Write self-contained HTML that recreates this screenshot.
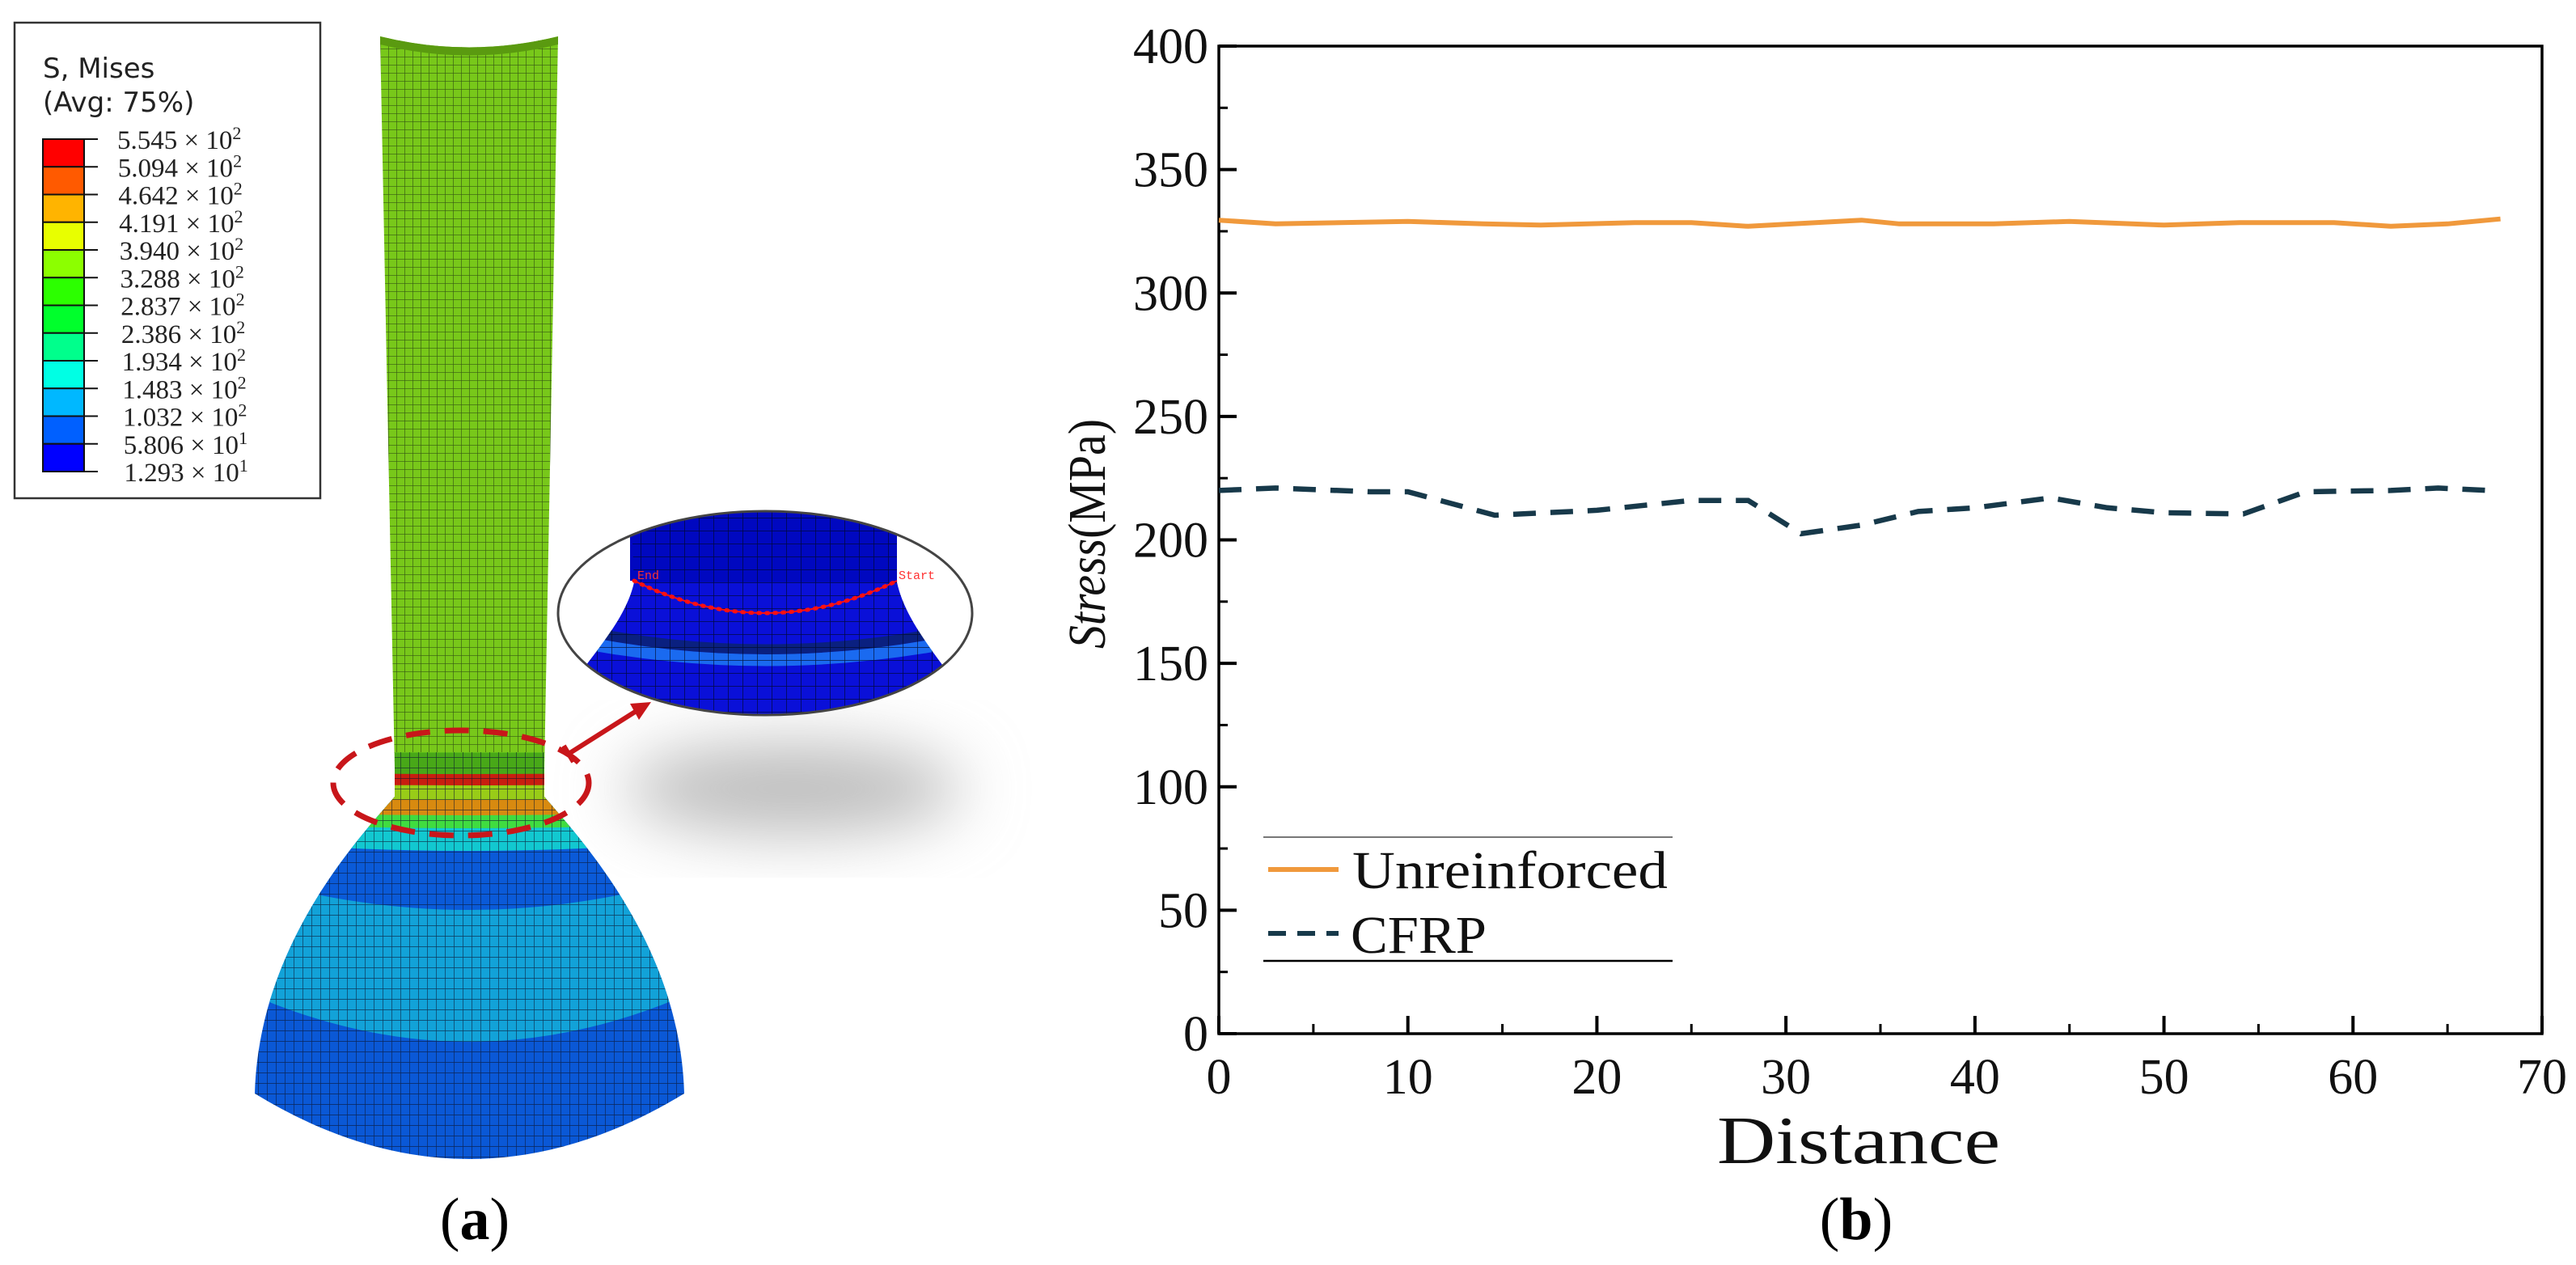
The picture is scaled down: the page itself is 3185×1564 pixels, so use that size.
<!DOCTYPE html>
<html><head><meta charset="utf-8"><style>
html,body{margin:0;padding:0;background:#fff;}
svg{display:block;}
</style></head><body>
<svg id="fig" width="3185" height="1564" viewBox="0 0 3185 1564" xmlns="http://www.w3.org/2000/svg">
<defs>
  <pattern id="mesh" width="10" height="10" patternUnits="userSpaceOnUse">
    <path d="M0,0 H10 M0,0 V10" stroke="#1a2a10" stroke-width="1.3" stroke-opacity="0.7" fill="none"/>
  </pattern>
  <pattern id="mesh2" width="11" height="13" patternUnits="userSpaceOnUse">
    <path d="M0,0 H11 M0,0 V13" stroke="#0a1530" stroke-width="1.4" stroke-opacity="0.75" fill="none"/>
  </pattern>
  <pattern id="mesh3" width="18" height="16" patternUnits="userSpaceOnUse">
    <path d="M0,0 H18 M0,0 V16" stroke="#000820" stroke-width="1.5" stroke-opacity="0.8" fill="none"/>
  </pattern>
  <clipPath id="flareClip">
    <path d="M488,930 L488,985 C440,1040 320,1170 315,1352 Q580,1514 846,1352 C841,1170 720,1040 673,985 L673,930 Z"/>
  </clipPath>
  <clipPath id="insetClip">
    <ellipse cx="946" cy="758" rx="255" ry="125"/>
  </clipPath>
  <filter id="blur" x="-50%" y="-50%" width="200%" height="200%"><feGaussianBlur stdDeviation="40"/></filter>
</defs>

<!-- Panel (a) legend -->
<g>
  <rect x="18" y="28" width="378" height="588" fill="#fff" stroke="#333" stroke-width="2.5"/>
  <text x="53" y="96" font-family="'DejaVu Sans','Liberation Sans',sans-serif" font-size="34" fill="#222">S, Mises</text>
  <text x="53" y="138" font-family="'DejaVu Sans','Liberation Sans',sans-serif" font-size="34" fill="#222">(Avg: 75%)</text>
  <g id="cbar"></g>
</g>

<!-- shadow -->
<ellipse cx="980" cy="975" rx="210" ry="55" fill="#bbb" filter="url(#blur)"/>

<!-- Tube -->
<g>
  <path d="M470,45 Q580,72 690,45 L673,950 L488,950 Z" fill="#78c81a"/>
  <path d="M470,45 Q580,72 690,45 L673,950 L488,950 Z" fill="url(#mesh)"/>
  <path d="M470,45 Q580,72 690,45 L690,55 Q580,82 470,55 Z" fill="#5a9a10"/>
  <g clip-path="url(#flareClip)" id="flareBands"></g>
  <path d="M488,930 L488,985 C440,1040 320,1170 315,1352 Q580,1514 846,1352 C841,1170 720,1040 673,985 L673,930 Z" fill="url(#mesh2)"/>
  <ellipse cx="570" cy="968" rx="158" ry="65" fill="none" stroke="#c8161a" stroke-width="7" stroke-dasharray="30 18"/>
  <g>
    <line x1="703" y1="932" x2="790" y2="877" stroke="#c8161a" stroke-width="6"/>
    <polygon points="805,868 779,870 790,890" fill="#c8161a"/>
    <line x1="697" y1="922" x2="709" y2="942" stroke="#c8161a" stroke-width="6"/>
  </g>
</g>

<!-- Inset -->
<g>
  <ellipse cx="946" cy="758" rx="256" ry="126" fill="#fff"/>
  <g clip-path="url(#insetClip)">
    <path d="M779,600 L1109,600 L1109,720 C1118,760 1145,795 1175,835 L1175,900 L715,900 L715,835 C745,795 775,760 784,720 Z" fill="#0a10d8"/>
    <rect x="779" y="600" width="330" height="120" fill="#0008c0"/>
    <path d="M745,778 Q946,815 1150,778 L1155,790 Q946,828 740,790 Z" fill="#0a2080"/>
    <path d="M740,790 Q946,828 1155,790 L1160,805 Q946,842 735,805 Z" fill="#1a6af0"/>
    <path d="M779,600 L1109,600 L1109,720 C1118,760 1145,795 1175,835 L1175,900 L715,900 L715,835 C745,795 775,760 784,720 Z" fill="url(#mesh3)"/>
    <rect x="600" y="600" width="179" height="119" fill="#fff"/>
    <rect x="1109" y="600" width="200" height="119" fill="#fff"/>
    <path d="M600,718 L784,718 C775,760 745,795 715,835 L600,835 Z" fill="#fff"/>
    <path d="M1109,718 L1300,718 L1300,835 L1175,835 C1145,795 1118,760 1109,718 Z" fill="#fff"/>
  </g>
  <ellipse cx="946" cy="758" rx="256" ry="126" fill="none" stroke="#444" stroke-width="3"/>
  <path d="M784,718 Q946,798 1109,718" fill="none" stroke="#ff1010" stroke-width="5" stroke-dasharray="2 8" stroke-linecap="round"/>
  <path d="M784,718 Q946,798 1109,718" fill="none" stroke="#ff1010" stroke-width="2"/>
  <text x="788" y="716" font-family="'Liberation Mono',monospace" font-size="15" fill="#ff3030">End</text>
  <text x="1111" y="716" font-family="'Liberation Mono',monospace" font-size="15" fill="#ff3030">Start</text>
</g>

<text x="587" y="1532" text-anchor="middle" font-family="'Liberation Serif',serif" font-size="74" fill="#000">(<tspan font-weight="bold">a</tspan>)</text>

<!-- Chart (b) -->
<g id="chart"></g>
<text x="2295" y="1532" text-anchor="middle" font-family="'Liberation Serif',serif" font-size="74" fill="#000">(<tspan font-weight="bold">b</tspan>)</text>
</svg>

<script>
// ---- Chart data ----
const xTicks = [0, 10, 20, 30, 40, 50, 60, 70];
const yTicks = [0, 50, 100, 150, 200, 250, 300, 350, 400];
const unreinforcedX = [0, 3, 10, 14, 17, 22, 25, 28, 34, 36, 41, 45, 50, 54, 59, 62, 65, 67.8];
const unreinforcedY = [329.5, 328, 329, 328, 327.5, 328.5, 328.5, 327, 329.5, 328, 328, 329, 327.5, 328.5, 328.5, 327, 328, 330];
const cfrpX = [0, 3, 8, 10, 14.6, 20, 25, 28, 30.8, 34, 37, 40, 44, 47, 50, 54.2, 57.5, 62, 64.5, 67.2];
const cfrpY = [220, 221, 219.5, 219.5, 210, 212, 216, 216, 202.5, 206, 211.5, 213, 217, 213, 211, 210.5, 219.5, 220, 221, 220];
const legendLabels = ["Unreinforced", "CFRP"];

// ---- Contour legend data ----
const contourLabels = ["5.545","5.094","4.642","4.191","3.940","3.288","2.837","2.386","1.934","1.483","1.032","5.806","1.293"];
const contourExp = ["2","2","2","2","2","2","2","2","2","2","2","1","1"];
const contourColors = ["#ff0000","#ff5a00","#ffb400","#e8ff00","#8cff00","#2cff00","#00ff2c","#00ff8c","#00ffe4","#00b8ff","#0060ff","#0000ff"];

const NS = "http://www.w3.org/2000/svg";
function mk(tag, attrs, parent){ const e=document.createElementNS(NS,tag); for(const k in attrs) e.setAttribute(k,attrs[k]); parent.appendChild(e); return e; }

// axes functions
const X0=1507, X1=3143, Y0=1278, Y1=57;
function sx(v){ return X0 + (v-0)/(70-0)*(X1-X0); }
function sy(v){ return Y0 - (v-0)/(400-0)*(Y0-Y1); }

const chart = document.getElementById('chart');
const serif = "'Liberation Serif',serif";

// frame
const frame = mk('rect',{x:X0,y:Y1,width:X1-X0,height:Y0-Y1,fill:'none',stroke:'#000','stroke-width':3.5},chart);



// y ticks
for (let i=0;i<yTicks.length;i++){
  const v=yTicks[i];
  const t=mk('line',{x1:X0,x2:X0+22,y1:sy(v),y2:sy(v),stroke:'#000','stroke-width':4},chart);
  
  
  const lb=mk('text',{x:1494,y:sy(v)+21,'text-anchor':'end','font-family':serif,'font-size':62,fill:'#111'},chart);
  lb.textContent=String(v);
  
  
  if (i<yTicks.length-1){
    const mv=(yTicks[i]+yTicks[i+1])/2;
    const m=mk('line',{x1:X0,x2:X0+11,y1:sy(mv),y2:sy(mv),stroke:'#000','stroke-width':3},chart);
    
    
  }
}
// x ticks
for (let i=0;i<xTicks.length;i++){
  const v=xTicks[i];
  const t=mk('line',{x1:sx(v),x2:sx(v),y1:Y0,y2:Y0-22,stroke:'#000','stroke-width':4},chart);
  
  
  const lb=mk('text',{x:sx(v),y:1352,'text-anchor':'middle','font-family':serif,'font-size':62,fill:'#111'},chart);
  lb.textContent=String(v);
  
  
  if (i<xTicks.length-1){
    const mv=(xTicks[i]+xTicks[i+1])/2;
    const m=mk('line',{x1:sx(mv),x2:sx(mv),y1:Y0,y2:Y0-12,stroke:'#000','stroke-width':3},chart);
    
    
  }
}
// titles
const xt=mk('text',{x:2298,y:1438,'text-anchor':'middle','font-family':serif,'font-size':84,fill:'#111',textLength:350,lengthAdjust:'spacingAndGlyphs'},chart);
xt.textContent='Distance';


const yt=mk('text',{x:0,y:0,'text-anchor':'middle','font-family':serif,'font-size':66,fill:'#111',textLength:284,lengthAdjust:'spacingAndGlyphs',transform:'translate(1366,660) rotate(-90)'},chart);
yt.innerHTML='<tspan font-style="italic">Stress</tspan>(MPa)';



// series
function pts(xs,ys){ return xs.map((x,i)=>sx(x).toFixed(1)+','+sy(ys[i]).toFixed(1)).join(' '); }
const s1=mk('polyline',{points:pts(unreinforcedX,unreinforcedY),fill:'none',stroke:'#f0993c','stroke-width':6,'stroke-linejoin':'round'},chart);


const s2=mk('polyline',{points:pts(cfrpX,cfrpY),fill:'none',stroke:'#17394a','stroke-width':6.5,'stroke-dasharray':'28 18'},chart);



// legend
const lg=mk('g',{},chart);


mk('line',{x1:1562,x2:2068,y1:1035,y2:1035,stroke:'#777','stroke-width':2},lg);
mk('line',{x1:1562,x2:2068,y1:1188,y2:1188,stroke:'#000','stroke-width':2.5},lg);
const le1=mk('line',{x1:1568,x2:1655,y1:1075,y2:1075,stroke:'#f0993c','stroke-width':6},lg);


const lt1=mk('text',{x:1672,y:1098,'font-family':serif,'font-size':66,fill:'#111',textLength:390,lengthAdjust:'spacingAndGlyphs'},lg);
lt1.textContent=legendLabels[0];


const le2=mk('line',{x1:1568,x2:1655,y1:1154,y2:1154,stroke:'#17394a','stroke-width':6,'stroke-dasharray':'22 14'},lg);


const lt2=mk('text',{x:1670,y:1178,'font-family':serif,'font-size':66,fill:'#111',textLength:168,lengthAdjust:'spacingAndGlyphs'},lg);
lt2.textContent=legendLabels[1];



// contour color bar
const cb=document.getElementById('cbar');
const bTop=172, bH=(583-172)/12;
for (let i=0;i<12;i++){
  const r=mk('rect',{x:53,y:bTop+i*bH,width:51,height:bH,fill:contourColors[i],stroke:'#111','stroke-width':2},cb);
  
  
}
for (let i=0;i<13;i++){
  const y=bTop+i*bH;
  mk('line',{x1:104,x2:121,y1:y,y2:y,stroke:'#111','stroke-width':2},cb);
  const t=mk('text',{x:145+i*0.7,y:y+12,'font-family':serif,'font-size':33,fill:'#222'},cb);
  t.innerHTML=contourLabels[i]+' \u00d7 10<tspan dy="-12" font-size="22">'+contourExp[i]+'</tspan>';
  
  
}

// flare bands (illustration)
const fb=document.getElementById('flareBands');
mk('rect',{x:300,y:920,width:560,height:560,fill:'#0a58d6'},fb);
const bands=[[1225,63,'#12a2d8'],[1083,42,'#0a5ad8'],[1040,12,'#12c8d0'],[1018,6,'#40dc40'],[1003,5,'#d88a10'],[985,4,'#98cc18'],[968,3,'#c81e10'],[955,2,'#48a818'],[930,1,'#5cbc1a']];
for (const b of bands){
  mk('path',{d:`M300,920 L860,920 L860,${b[0]} Q580,${b[0]+2*b[1]} 300,${b[0]} Z`,fill:b[2]},fb);
}
</script>
</body></html>
